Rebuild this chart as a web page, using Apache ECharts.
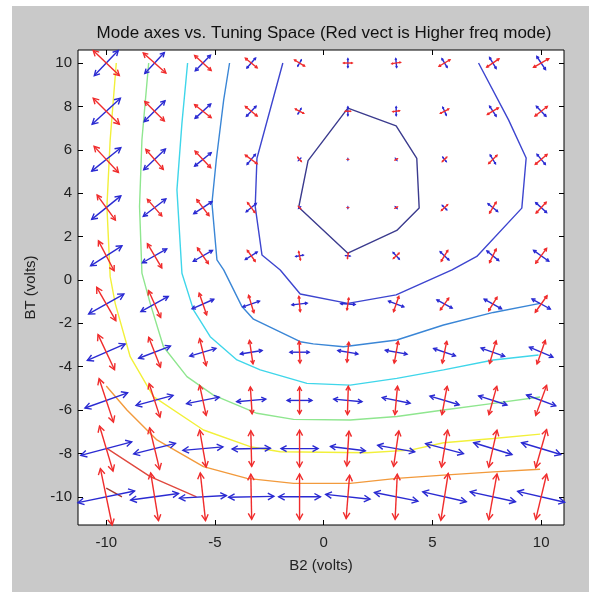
<!DOCTYPE html>
<html>
<head>
<meta charset="utf-8">
<script src="https://cdn.jsdelivr.net/npm/echarts@6/dist/echarts.min.js"></script>
<style>
  html, body { margin: 0; padding: 0; background: #fff; }
  #main { width: 589px; height: 592px; }
</style>
</head>
<body>
<div id="main"></div>
<script type="text/javascript">
// grid of tuning points (B2 across, BT down from top row)
var xs = [-10, -7.778, -5.556, -3.333, -1.111, 1.111, 3.333, 5.556, 7.778, 10];
var ys = [10, 7.778, 5.556, 3.333, 1.111, -1.111, -3.333, -5.556, -7.778, -10];

// half-vectors of the higher freq mode (red), one row per ys entry
var redU = [
  [-0.60, -0.52, -0.38, -0.27, -0.23, 0.20, 0.20, 0.25, 0.28, 0.35],
  [-0.60, -0.45, -0.38, -0.27, -0.19, 0.12, 0.15, 0.19, 0.25, 0.28],
  [-0.56, -0.40, -0.36, -0.27, -0.08, 0.03, 0.05, 0.10, 0.19, 0.27],
  [-0.42, -0.33, -0.28, -0.17, -0.05, 0.03, 0.05, 0.14, 0.15, 0.23],
  [-0.36, -0.33, -0.25, -0.18, -0.04, 0.02, 0.13, 0.15, 0.15, 0.25],
  [-0.44, -0.28, -0.17, -0.12, -0.03, 0.04, 0.12, 0.19, 0.19, 0.27],
  [-0.38, -0.27, -0.15, -0.08, -0.02, 0.04, 0.09, 0.10, 0.15, 0.19],
  [-0.33, -0.25, -0.15, -0.04, 0.00, 0.02, 0.06, 0.12, 0.18, 0.25],
  [-0.31, -0.23, -0.15, -0.02, 0.00, 0.05, 0.12, 0.14, 0.19, 0.25],
  [-0.27, -0.18, -0.12, -0.02, 0.00, 0.08, 0.05, 0.17, 0.19, 0.25]
];
var redV = [
  [0.58, 0.46, 0.35, 0.22, 0.14, 0.00, 0.03, 0.15, 0.19, 0.20],
  [0.60, 0.45, 0.30, 0.22, 0.10, 0.00, 0.02, 0.10, 0.15, 0.22],
  [0.60, 0.46, 0.38, 0.20, 0.09, 0.00, 0.03, 0.10, 0.19, 0.23],
  [0.58, 0.38, 0.37, 0.23, 0.05, 0.00, 0.03, 0.13, 0.25, 0.25],
  [0.69, 0.56, 0.36, 0.25, 0.19, 0.12, 0.12, 0.25, 0.31, 0.34],
  [0.77, 0.62, 0.50, 0.40, 0.35, 0.27, 0.35, 0.27, 0.31, 0.38],
  [0.81, 0.69, 0.62, 0.54, 0.50, 0.46, 0.50, 0.50, 0.52, 0.54],
  [1.00, 0.77, 0.69, 0.62, 0.62, 0.65, 0.65, 0.65, 0.65, 0.69],
  [1.04, 0.96, 0.85, 0.82, 0.85, 0.80, 0.82, 0.85, 0.85, 0.88],
  [1.30, 1.10, 1.10, 1.04, 1.05, 1.00, 1.04, 1.08, 1.05, 1.04]
];
// half-vectors of the lower freq mode (blue)
var blueU = [
  [0.55, 0.45, 0.35, 0.20, 0.08, 0.00, -0.02, 0.12, 0.15, 0.20],
  [0.65, 0.48, 0.36, 0.22, 0.07, 0.00, 0.00, 0.08, 0.15, 0.22],
  [0.67, 0.50, 0.38, 0.19, 0.05, 0.00, 0.03, 0.08, 0.12, 0.19],
  [0.67, 0.52, 0.42, 0.23, 0.04, 0.00, 0.04, 0.10, 0.22, 0.25],
  [0.72, 0.56, 0.44, 0.27, 0.17, 0.10, 0.14, 0.20, 0.27, 0.35],
  [0.81, 0.63, 0.50, 0.38, 0.35, 0.33, 0.35, 0.35, 0.40, 0.42],
  [0.87, 0.73, 0.60, 0.50, 0.44, 0.46, 0.50, 0.50, 0.54, 0.54],
  [0.98, 0.85, 0.75, 0.67, 0.57, 0.65, 0.64, 0.67, 0.65, 0.67],
  [1.17, 0.96, 0.92, 0.88, 0.85, 0.80, 0.85, 0.87, 0.88, 0.90],
  [1.30, 1.10, 1.08, 1.04, 0.96, 1.02, 1.00, 1.00, 1.04, 1.08]
];
var blueV = [
  [0.58, 0.48, 0.36, 0.23, 0.14, 0.20, 0.20, -0.20, -0.25, -0.30],
  [0.60, 0.48, 0.33, 0.23, 0.12, 0.20, 0.20, -0.18, -0.23, -0.23],
  [0.54, 0.48, 0.31, 0.23, 0.05, 0.03, -0.04, -0.10, -0.20, -0.23],
  [0.54, 0.40, 0.28, 0.19, 0.03, 0.03, -0.04, -0.10, -0.18, -0.23],
  [0.46, 0.32, 0.25, 0.17, 0.03, -0.01, -0.15, -0.19, -0.22, -0.25],
  [0.46, 0.35, 0.22, 0.13, 0.04, -0.02, -0.13, -0.19, -0.22, -0.23],
  [0.38, 0.28, 0.18, 0.08, 0.00, -0.08, -0.09, -0.17, -0.19, -0.23],
  [0.35, 0.23, 0.15, 0.06, 0.00, -0.06, -0.13, -0.20, -0.21, -0.25],
  [0.31, 0.24, 0.08, 0.02, 0.00, -0.10, -0.15, -0.23, -0.27, -0.27],
  [0.27, 0.15, 0.06, 0.02, 0.00, -0.11, -0.20, -0.23, -0.23, -0.25]
];

// contour lines, innermost (lowest) first
var c1 = [[1.11, 7.92], [3.33, 7.1], [4.28, 5.6], [4.39, 3.31], [3.36, 2.28], [1.11, 1.23], [-1.15, 3.35], [-0.72, 5.5], [1.11, 7.92]];
var c2 = [[-1.88, 10], [-3.07, 5.61], [-3.15, 3.38], [-2.84, 1.15], [-2.0, 0.46], [-1.08, -0.65], [1.11, -1.08], [3.33, -0.69], [5.9, 0.46], [7.04, 1.08], [9.11, 3.31], [9.31, 5.62], [8.5, 7.38], [7.12, 10]];
var c3 = [[-4.33, 10], [-4.6, 8.3], [-4.94, 5.54], [-5.14, 3.54], [-4.91, 0.92], [-4.6, 0.46], [-3.76, -1.23], [-3.23, -1.81], [-1.08, -2.85], [-0.48, -2.95], [0.91, -3.08], [3.36, -2.77], [5.51, -2.08], [7.8, -1.5], [9.95, -1.08]];
var c4 = [[-6.26, 10], [-6.52, 7.23], [-6.75, 4.15], [-6.52, 0.31], [-5.99, -1.38], [-5.22, -2.62], [-3.99, -3.69], [-2.92, -4.15], [-0.77, -4.77], [1.22, -4.85], [3.36, -4.54], [5.51, -4.15], [7.8, -3.69], [9.88, -3.46]];
var c5 = [[-8.05, 10], [-8.36, 6.46], [-8.47, 3.38], [-8.36, 0.31], [-7.98, -1.08], [-7.37, -3.08], [-6.29, -4.46], [-5.07, -5.31], [-3.07, -6.15], [-1.39, -6.43], [1.22, -6.46], [3.36, -6.3], [5.51, -6.0], [7.8, -5.69], [9.95, -5.4]];
var c6 = [[-9.54, 10], [-9.82, 6.46], [-9.97, 3.38], [-9.82, 0.15], [-9.59, -1.08], [-8.9, -3.54], [-7.83, -5.38], [-5.53, -6.92], [-3.38, -7.69], [-2.0, -7.92], [1.99, -7.97], [3.98, -7.85], [5.51, -7.51], [7.8, -7.31], [9.95, -7.11]];
var c7 = [[-10, -4.89], [-9.05, -6.0], [-7.67, -7.38], [-5.53, -8.61], [-3.53, -9.15], [-1.39, -9.38], [1.22, -9.38], [3.36, -9.15], [5.51, -9.0], [7.8, -8.85], [9.95, -8.73]];
var c8 = [[-9.97, -7.77], [-7.98, -9.07], [-5.85, -10]];
var c9 = [[-10, -9.6], [-9.28, -10]];
var contours = [c1, c2, c3, c4, c5, c6, c7, c8, c9];
var contourColors = ['#3b3b8e', '#3d45cf', '#3a86d6', '#3fd6ea', '#8fe68f', '#f2f03a', '#f29a3c', '#e0493f', '#a43a32'];

function buildArrows(U, V) {
  var out = [];
  for (var i = 0; i < ys.length; i++) {
    for (var j = 0; j < xs.length; j++) {
      out.push([xs[j], ys[i], U[i][j], V[i][j]]);
    }
  }
  return out;
}

function arrowRenderer(color) {
  return function (params, api) {
    var x = api.value(0), y = api.value(1), u = api.value(2), v = api.value(3);
    var c = api.coord([x, y]);
    var p1 = api.coord([x + u, y + v]);
    var p0 = api.coord([x - u, y - v]);
    var dx = p1[0] - c[0], dy = p1[1] - c[1];
    var L = Math.sqrt(dx * dx + dy * dy) || 0.0001;
    var ux = dx / L, uy = dy / L;
    var h = Math.min(6, L * 0.3);
    var w = h * 0.55;
    function head(p, sx, sy) {
      var bx = p[0] - sx * h, by = p[1] - sy * h;
      return [[bx - sy * w, by + sx * w], p, [bx + sy * w, by - sx * w]];
    }
    var st = { stroke: color, lineWidth: 1.4, fill: null };
    return {
      type: 'group',
      children: [
        { type: 'line', shape: { x1: p0[0], y1: p0[1], x2: p1[0], y2: p1[1] }, style: st },
        { type: 'polyline', shape: { points: head(p1, ux, uy) }, style: st },
        { type: 'polyline', shape: { points: head(p0, -ux, -uy) }, style: st }
      ]
    };
  };
}

var chart = echarts.init(document.getElementById('main'));

var series = [];
contours.forEach(function (pts, k) {
  series.push({
    type: 'line',
    data: pts,
    showSymbol: false,
    silent: true,
    animation: false,
    lineStyle: { color: contourColors[k], width: 1.4 },
    z: 2
  });
});
series.push({
  type: 'custom',
  data: buildArrows(blueU, blueV),
  renderItem: arrowRenderer('#2a2ad2'),
  encode: { x: 0, y: 1 },
  animation: false,
  z: 3
});
series.push({
  type: 'custom',
  data: buildArrows(redU, redV),
  renderItem: arrowRenderer('#f02c2c'),
  encode: { x: 0, y: 1 },
  animation: false,
  z: 4
});

var font = 'Liberation Sans, Arial, sans-serif';
var xTicks = [-10, -5, 0, 5, 10];
var yTicks = [-10, -8, -6, -4, -2, 0, 2, 4, 6, 8, 10];

function xAx(pos, labels) {
  return {
    type: 'value', position: pos, min: -11.3, max: 11.05,
    name: labels ? 'B2 (volts)' : '', nameLocation: 'middle', nameGap: 33,
    nameTextStyle: { fontFamily: font, fontSize: 15, color: '#222' },
    splitLine: { show: false },
    axisLine: { show: false, onZero: false },
    axisTick: { show: true, inside: true, length: 5, lineStyle: { color: '#000' }, customValues: xTicks },
    axisLabel: { show: labels, customValues: xTicks, fontFamily: font, fontSize: 15, color: '#222', margin: 10 }
  };
}
function yAx(pos, labels) {
  return {
    type: 'value', position: pos, min: -11.3, max: 10.6,
    name: labels ? 'BT (volts)' : '', nameLocation: 'middle', nameGap: 40,
    nameTextStyle: { fontFamily: font, fontSize: 15, color: '#222' },
    splitLine: { show: false },
    axisLine: { show: false, onZero: false },
    axisTick: { show: true, inside: true, length: 5, lineStyle: { color: '#000' }, customValues: yTicks },
    axisLabel: { show: labels, customValues: yTicks, fontFamily: font, fontSize: 15, color: '#222', margin: 6 }
  };
}

chart.setOption({
  backgroundColor: '#fff',
  animation: false,
  graphic: [{
    type: 'rect', left: 12, top: 6, z: -10, silent: true,
    shape: { width: 577, height: 586 },
    style: { fill: '#c9c9c9' }
  }],
  title: {
    text: 'Mode axes vs. Tuning Space (Red vect is Higher freq mode)',
    left: 319, top: 20, textAlign: 'center',
    textStyle: { fontFamily: font, fontSize: 17, fontWeight: 'normal', color: '#111' }
  },
  grid: {
    left: 78, right: 25, top: 50, bottom: 67,
    show: true, backgroundColor: '#fff', borderColor: '#000', borderWidth: 1
  },
  xAxis: [xAx('bottom', true), xAx('top', false)],
  yAxis: [yAx('left', true), yAx('right', false)],
  series: series
});
</script>
</body>
</html>
